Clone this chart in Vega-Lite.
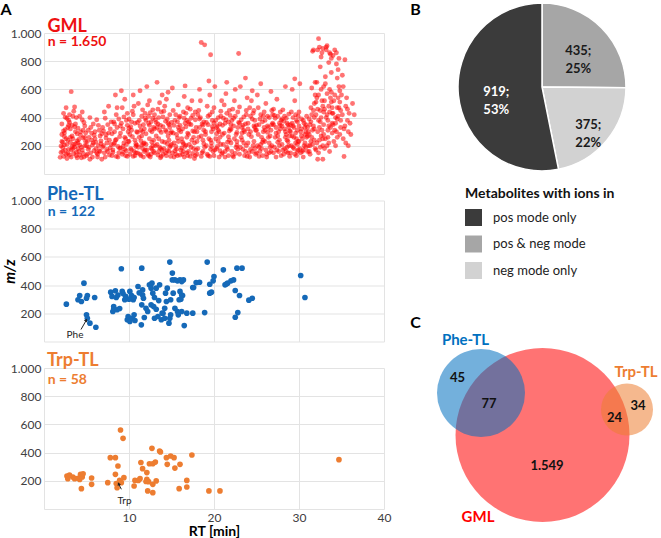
{
"$schema":"https://vega.github.io/schema/vega-lite/v6.json",
"padding":{"left":0,"top":0,"right":0,"bottom":0},
"background":"white",
"config":{"font":"Lato","view":{"stroke":null},"axis":{"labelOverlap":false,"labelFlush":false,"tickCount":12}},
"bounds":"flush",
"columns":2,
"spacing":{"row":26.5,"column":42},
"resolve":{"scale":{"color":"independent","size":"independent","theta":"independent","radius":"independent"},"legend":{"color":"independent","size":"independent"}},
"concat":[
{"width":340,"height":141,
"layer":[
{"data":{"values":"x,y\n2.0,152\n2.1,230\n1.9,118\n2.3,305\n2.2,188\n2.5,402\n2.4,265\n2.6,140\n2.8,330\n2.7,210\n2.9,175\n2.1,355\n2.3,125\n2.6,470\n2.4,290\n2.8,240\n2.0,198\n2.9,380\n2.2,160\n2.5,315\n2.7,110\n2.3,430\n2.6,250\n2.8,145\n2.1,280\n2.4,205\n2.9,345\n2.5,168\n2.7,395\n2.2,225\n3.0,135\n3.2,584\n3.1,260\n3.4,180\n3.3,345\n3.5,210\n3.6,475\n3.2,120\n3.7,300\n3.8,155\n3.4,410\n3.9,235\n3.1,320\n3.6,190\n3.5,445\n3.3,270\n3.8,130\n3.0,365\n3.7,215\n3.9,285\n3.2,170\n3.4,250\n3.6,335\n3.8,400\n3.5,145\n3.1,225\n3.7,355\n3.3,195\n3.9,115\n3.0,420\n4.1,160\n4.3,300\n4.0,220\n4.5,385\n4.2,135\n4.6,255\n4.4,190\n4.8,340\n4.7,120\n4.9,230\n4.2,410\n4.5,170\n4.3,275\n4.8,200\n4.0,325\n4.6,145\n4.9,290\n4.1,245\n4.7,365\n4.4,115\n4.2,205\n4.8,260\n4.5,440\n4.0,180\n4.6,310\n5.1,140\n5.3,260\n5.0,200\n5.5,330\n5.2,175\n5.7,120\n5.6,290\n5.8,220\n5.4,400\n5.9,165\n5.2,310\n5.6,240\n5.0,130\n5.8,355\n5.3,190\n5.9,275\n5.5,150\n5.1,230\n5.7,205\n5.4,105\n6.1,180\n6.3,120\n6.0,250\n6.5,310\n6.2,150\n6.7,215\n6.4,345\n6.8,105\n6.6,270\n6.9,190\n6.2,385\n6.5,165\n6.0,300\n6.7,235\n6.3,140\n6.9,330\n6.4,200\n6.8,285\n6.1,225\n6.6,160\n7.1,150\n7.3,280\n7.0,200\n7.5,350\n7.2,120\n7.7,240\n7.4,175\n7.8,320\n7.6,480\n7.9,210\n7.2,395\n7.5,160\n7.0,305\n7.7,135\n7.3,255\n7.9,370\n7.4,220\n7.8,185\n7.1,440\n7.6,290\n8.1,170\n8.3,300\n8.0,130\n8.5,245\n8.2,370\n8.7,195\n8.4,560\n8.8,150\n8.6,330\n8.9,265\n8.2,210\n8.5,420\n8.0,285\n8.7,120\n8.3,355\n8.9,180\n8.4,240\n8.8,390\n8.1,155\n8.6,470\n8.5,125\n8.3,220\n9.1,590\n9.0,185\n9.3,320\n9.2,140\n9.5,260\n9.4,405\n9.7,210\n9.6,130\n9.8,345\n9.9,230\n9.2,470\n9.5,175\n9.0,290\n9.7,380\n9.3,155\n9.9,300\n9.4,220\n9.8,125\n9.1,360\n9.6,250\n9.5,530\n9.3,195\n9.8,430\n9.0,340\n9.7,165\n10.1,140\n10.3,310\n10.0,230\n10.5,420\n10.2,180\n10.7,360\n10.4,265\n10.8,150\n10.6,480\n10.9,205\n10.2,335\n10.5,125\n10.0,390\n10.7,240\n10.3,170\n10.9,300\n10.4,445\n10.8,215\n10.1,280\n10.6,160\n10.5,560\n10.3,370\n10.8,195\n10.0,325\n10.7,130\n11.1,190\n11.3,340\n11.0,150\n11.5,410\n11.2,260\n11.7,120\n11.4,310\n11.8,220\n11.6,455\n11.9,170\n11.2,380\n11.5,205\n11.0,295\n11.7,350\n11.3,140\n11.9,430\n11.4,235\n11.8,320\n11.1,500\n11.6,180\n11.5,270\n11.3,590\n11.8,160\n11.0,365\n11.7,215\n11.4,130\n11.9,395\n11.6,300\n12.1,170\n12.3,360\n12.0,210\n12.5,435\n12.2,140\n12.7,300\n12.4,250\n12.8,395\n12.6,185\n12.9,330\n12.2,490\n12.5,120\n12.0,285\n12.7,225\n12.3,410\n12.9,160\n12.4,345\n12.8,200\n12.1,620\n12.6,370\n12.5,310\n12.3,130\n12.8,455\n12.0,380\n12.7,175\n12.4,520\n12.9,240\n12.6,140\n13.1,200\n13.3,330\n13.0,150\n13.5,400\n13.2,270\n13.7,180\n13.4,460\n13.8,125\n13.6,310\n13.9,230\n13.2,365\n13.5,160\n13.0,420\n13.7,345\n13.3,210\n13.9,560\n13.4,135\n13.8,295\n13.1,385\n13.6,190\n13.5,250\n13.3,650\n13.8,440\n13.0,320\n13.7,115\n13.4,355\n13.9,170\n13.6,505\n14.1,180\n14.3,310\n14.0,140\n14.5,390\n14.2,225\n14.7,350\n14.4,130\n14.8,420\n14.6,270\n14.9,200\n14.2,480\n14.5,165\n14.0,335\n14.7,240\n14.3,375\n14.9,125\n14.4,300\n14.8,190\n14.1,445\n14.6,580\n14.5,215\n14.3,150\n14.8,330\n14.0,405\n14.7,160\n14.4,530\n14.9,290\n14.6,360\n15.1,150\n15.3,345\n15.0,210\n15.5,420\n15.2,290\n15.7,130\n15.4,380\n15.8,230\n15.6,175\n15.9,310\n15.2,450\n15.5,195\n15.0,365\n15.7,255\n15.3,120\n15.9,400\n15.4,165\n15.8,330\n15.1,610\n15.6,280\n15.5,140\n15.3,220\n15.8,490\n15.0,300\n15.7,370\n16.1,170\n16.3,320\n16.0,135\n16.5,395\n16.2,250\n16.7,205\n16.4,440\n16.8,150\n16.6,360\n16.9,290\n16.2,185\n16.5,120\n16.0,410\n16.7,335\n16.3,225\n16.9,470\n16.4,160\n16.8,380\n16.1,300\n16.6,195\n16.5,550\n16.3,140\n16.8,260\n16.0,345\n16.7,430\n16.4,215\n16.9,130\n16.6,625\n17.1,210\n17.3,350\n17.0,160\n17.5,415\n17.2,125\n17.7,300\n17.4,240\n17.8,385\n17.6,180\n17.9,330\n17.2,460\n17.5,145\n17.0,280\n17.7,220\n17.3,395\n17.9,170\n17.4,520\n17.8,130\n17.1,355\n17.6,260\n17.5,305\n17.3,190\n17.8,440\n17.0,370\n17.7,110\n18.1,180\n18.3,330\n18.0,140\n18.5,933\n18.2,260\n18.9,916\n18.4,400\n18.8,215\n18.6,355\n18.7,160\n18.2,450\n18.5,125\n18.0,300\n18.7,240\n18.3,390\n18.9,190\n18.4,520\n18.8,310\n18.1,420\n18.6,150\n18.5,270\n18.3,600\n18.8,370\n18.0,230\n18.7,345\n19.1,200\n19.3,350\n19.6,846\n19.5,420\n19.2,140\n19.7,300\n19.4,250\n19.8,380\n19.6,175\n19.9,320\n19.2,480\n19.5,125\n19.0,280\n19.7,220\n19.3,410\n19.9,160\n19.4,660\n19.8,335\n19.1,365\n19.6,240\n19.5,560\n19.3,130\n19.8,440\n19.0,300\n19.7,195\n20.1,170\n20.3,330\n20.0,130\n20.5,400\n20.2,250\n20.7,355\n20.4,195\n20.8,445\n20.6,300\n20.9,140\n20.2,380\n20.5,230\n20.0,470\n20.7,165\n20.3,285\n20.9,520\n20.4,340\n20.8,210\n20.1,620\n20.6,120\n20.5,310\n20.3,180\n20.8,410\n20.0,360\n20.7,260\n21.1,210\n21.3,360\n21.0,150\n21.5,430\n21.2,290\n21.7,130\n21.4,385\n21.8,240\n21.6,175\n21.9,320\n21.2,490\n21.5,190\n21.0,345\n21.7,265\n21.3,120\n21.9,415\n21.4,570\n21.8,305\n21.1,395\n21.6,225\n21.5,650\n21.3,160\n21.8,450\n21.0,280\n21.7,370\n22.1,160\n22.3,340\n22.0,220\n22.5,410\n22.2,130\n22.7,295\n22.4,250\n22.9,855\n22.6,190\n22.9,365\n22.2,460\n22.5,145\n22.0,315\n22.7,230\n22.3,395\n22.8,175\n22.4,520\n22.8,330\n22.1,380\n22.6,280\n22.5,600\n22.3,120\n22.8,440\n22.0,350\n22.7,205\n23.1,190\n23.3,330\n23.0,140\n23.5,405\n23.2,260\n23.7,355\n23.4,175\n23.8,450\n23.6,300\n23.9,125\n23.2,385\n23.5,220\n23.0,475\n23.7,160\n23.3,290\n23.9,540\n23.4,345\n23.8,200\n23.1,620\n23.6,130\n23.5,310\n23.3,240\n23.8,420\n23.0,360\n23.7,680\n24.1,150\n24.3,300\n24.0,220\n24.5,390\n24.2,120\n24.7,340\n24.4,265\n24.8,180\n24.6,430\n24.9,310\n24.2,470\n24.5,160\n24.0,360\n24.7,230\n24.3,410\n24.9,140\n24.4,520\n24.8,330\n24.1,280\n24.6,200\n24.5,590\n24.3,175\n24.8,380\n24.0,320\n24.7,450\n25.1,200\n25.3,350\n25.0,150\n25.5,420\n25.2,280\n25.7,130\n25.4,390\n25.8,240\n25.6,180\n25.9,330\n25.2,470\n25.5,210\n25.0,310\n25.7,370\n25.3,125\n25.9,440\n25.4,160\n25.8,300\n25.1,560\n25.6,260\n25.5,640\n25.3,190\n25.8,410\n25.0,345\n25.7,225\n26.1,170\n26.3,340\n26.0,230\n26.5,400\n26.2,140\n26.7,310\n26.4,260\n26.8,450\n26.6,190\n26.9,360\n26.2,120\n26.5,220\n26.0,380\n26.7,160\n26.3,295\n26.9,420\n26.4,330\n26.8,200\n26.1,500\n26.6,270\n26.5,150\n26.3,410\n26.8,350\n26.0,310\n26.7,585\n27.1,190\n27.3,330\n27.0,150\n27.5,410\n27.2,260\n27.7,360\n27.4,170\n27.8,440\n27.6,300\n27.9,130\n27.2,395\n27.5,225\n27.0,350\n27.7,200\n27.3,290\n27.9,380\n27.4,530\n27.8,320\n27.1,415\n27.6,160\n27.5,270\n27.3,120\n27.8,345\n27.0,460\n27.7,240\n28.1,170\n28.3,320\n28.0,210\n28.5,395\n28.2,140\n28.7,350\n28.4,260\n28.8,425\n28.6,190\n28.9,305\n28.2,375\n28.5,160\n28.0,340\n28.7,230\n28.3,410\n28.9,125\n28.4,300\n28.8,200\n28.1,455\n28.6,360\n28.5,280\n28.3,180\n28.8,330\n28.0,390\n28.7,150\n28.4,620\n28.9,270\n28.6,240\n29.1,200\n29.3,340\n29.0,150\n29.5,675\n29.2,270\n29.7,380\n29.4,180\n29.8,310\n29.6,420\n29.9,230\n29.2,360\n29.5,140\n29.0,300\n29.7,250\n29.3,400\n29.9,170\n29.4,330\n29.8,210\n29.1,440\n29.6,290\n29.5,520\n29.3,190\n29.8,370\n29.0,350\n29.7,130\n29.4,260\n29.9,410\n29.6,220\n29.2,600\n29.8,160\n30.1,180\n30.3,320\n30.0,230\n30.5,380\n30.2,150\n30.7,280\n30.4,250\n30.8,350\n30.6,200\n30.9,410\n30.2,300\n30.5,170\n30.0,340\n30.7,220\n30.3,390\n30.9,260\n30.4,160\n30.8,300\n30.1,640\n30.6,360\n30.5,120\n30.3,270\n30.8,190\n30.0,440\n30.7,330\n31.1,200\n31.3,350\n31.0,160\n31.5,420\n31.2,280\n31.7,880\n31.4,230\n31.8,500\n31.6,310\n31.9,180\n31.2,390\n31.5,260\n31.0,330\n31.7,450\n31.3,140\n31.9,560\n31.4,370\n31.8,240\n31.1,300\n31.6,870\n31.5,610\n31.3,200\n31.8,400\n31.0,270\n31.7,340\n31.4,470\n31.9,650\n31.6,210\n31.2,160\n31.8,320\n32.1,220\n32.3,380\n32.0,170\n32.5,450\n32.2,300\n32.7,520\n32.4,900\n32.8,250\n32.6,600\n32.9,350\n32.2,880\n32.5,190\n32.0,420\n32.7,860\n32.3,560\n32.9,280\n32.4,330\n32.8,480\n32.1,650\n32.6,400\n32.5,760\n32.3,150\n32.8,890\n32.0,510\n32.7,310\n32.4,240\n32.9,620\n32.6,830\n32.2,460\n32.5,370\n32.1,540\n32.8,200\n32.3,960\n32.6,270\n32.9,440\n32.2,105\n32.8,105\n33.1,250\n33.3,420\n33.0,180\n33.5,480\n33.2,880\n33.7,540\n33.4,310\n33.8,820\n33.6,600\n33.9,360\n33.2,900\n33.5,220\n33.0,460\n33.7,850\n33.3,570\n33.9,290\n33.4,380\n33.8,510\n33.1,640\n33.6,440\n33.5,790\n33.3,200\n33.8,720\n33.0,520\n33.7,330\n33.4,260\n33.9,470\n33.6,860\n33.2,400\n33.5,340\n33.1,690\n33.8,580\n33.3,910\n33.6,160\n33.9,430\n34.1,230\n34.3,400\n34.0,840\n34.5,470\n34.2,560\n34.7,820\n34.4,300\n34.8,510\n34.6,740\n34.9,380\n34.2,880\n34.5,260\n34.0,430\n34.7,620\n34.3,360\n34.9,450\n34.4,780\n34.8,280\n34.1,520\n34.6,410\n34.5,680\n34.3,200\n34.8,590\n34.0,350\n34.7,470\n34.4,860\n34.9,330\n34.6,540\n34.2,310\n34.5,390\n35.1,420\n35.3,320\n35.0,560\n35.5,480\n35.2,250\n35.7,380\n35.4,810\n35.8,300\n35.6,540\n35.9,430\n35.2,620\n35.5,220\n36.0,360\n35.7,460\n36.3,500\n36.5,420\n35.4,340\n35.8,200\n35.1,700\n36.1,280\n35.3,124","format":{"type":"csv","parse":{"x":"number","y":"number"}}},
"mark":{"type":"circle","size":24,"opacity":0.55,"color":"#ff0000"},
"encoding":{
"x":{"field":"x","type":"quantitative","scale":{"domain":[0,40],"nice":false,"zero":false},"axis":{"values":[0,10,20,30,40],"tickCount":12,"labels":false,"ticks":false,"domain":false,"title":null,"gridColor":"#e3e3e3"}},
"y":{"field":"y","type":"quantitative","scale":{"domain":[0,1000],"nice":false},"axis":{"values":[0,200,400,600,800,1000],"tickCount":12,"labelExpr":"datum.value==0?'':(datum.value==1000?'1.000':datum.label)","labelOverlap":false,"ticks":false,"domain":false,"title":null,"labelPadding":3,"labelFontSize":12,"labelColor":"#404040","gridColor":"#e3e3e3"}}}},
{"data":{"values":[{}]},"mark":{"type":"text","align":"left","baseline":"alphabetic","fontSize":18,"fontWeight":"bold","color":"#ee1111"},
"encoding":{"x":{"datum":0.4,"type":"quantitative"},"y":{"datum":1008,"type":"quantitative"},"text":{"value":"GML"}}},
{"data":{"values":[{}]},"mark":{"type":"text","align":"left","baseline":"alphabetic","fontSize":14,"fontWeight":"bold","color":"#ee1111"},
"encoding":{"x":{"datum":0.45,"type":"quantitative"},"y":{"datum":905,"type":"quantitative"},"text":{"value":"n = 1.650"}}},
{"data":{"values":[{}]},"mark":{"type":"text","align":"center","baseline":"middle","fontSize":16,"fontWeight":"bold","color":"#000000"},
"encoding":{"x":{"datum":-4.47,"type":"quantitative"},"y":{"datum":1162,"type":"quantitative"},"text":{"value":"A"}}}
]},
{"width":232,"height":108,
"data":{"values":[{"mode":"pos & neg mode","n":435,"o":1,"lab":"435;\n25%"},{"mode":"neg mode only","n":375,"o":2,"lab":"375;\n22%"},{"mode":"pos mode only","n":919,"o":3,"lab":"919;\n53%"}]},
"encoding":{
"theta":{"field":"n","type":"quantitative","stack":true},
"order":{"field":"o","type":"quantitative"},
"color":{"field":"mode","type":"nominal","scale":{"domain":["pos mode only","pos & neg mode","neg mode only"],"range":["#3b3b3b","#a6a6a6","#d2d2d2"]},
"legend":{"orient":"none","legendX":39,"legendY":154,"title":"Metabolites with ions in","titleFontSize":14,"titleFontWeight":"bold","titleColor":"#111111","titlePadding":8,"labelFontSize":13,"labelColor":"#222222","labelOffset":11,"symbolType":"square","symbolSize":289,"symbolStrokeWidth":0,"symbolOpacity":1,"rowPadding":9.5}}},
"layer":[
{"mark":{"type":"arc","outerRadius":84,"stroke":"#ffffff","strokeWidth":1.5}},
{"mark":{"type":"text","fontSize":13,"fontWeight":"bold","lineBreak":"\n","lineHeight":18,"baseline":"middle","align":"center"},
"encoding":{"text":{"field":"lab"},
"radius":{"field":"n","type":"quantitative","scale":{"type":"linear","domain":[375,435,919],"range":[60,51,46],"zero":false}},
"color":{"condition":{"test":"datum.o==3","value":"#ffffff"},"value":"#1a1a1a"}}}
]},
{"width":340,"height":141,
"layer":[
{"data":{"values":"x,y\n2.63,265\n4.7,414\n4.2,326\n4.0,296\n4.4,284\n5.1,326\n5.0,307\n5.96,312\n5.0,189\n5.1,165\n5.4,130\n6.1,101\n7.85,350\n8.4,360\n9.1,516\n8.0,320\n8.5,312\n8.7,330\n9.2,355\n8.2,248\n8.1,213\n8.2,232\n8.6,225\n8.9,234\n9.5,296\n9.6,320\n10.1,355\n10.3,326\n10.5,296\n10.6,312\n9.9,177\n9.8,154\n10.1,142\n10.4,165\n10.6,189\n10.7,149\n11.06,390\n11.5,520\n11.5,260\n11.7,307\n11.6,330\n11.6,366\n11.45,118\n12.0,236\n12.2,213\n11.8,170\n12.4,402\n12.7,414\n12.6,378\n12.8,343\n13.0,312\n12.6,260\n12.9,248\n13.2,229\n13.0,165\n13.4,177\n13.2,378\n13.6,402\n13.8,154\n13.9,201\n14.2,165\n14.2,236\n14.4,284\n14.5,378\n14.3,343\n14.8,563\n15.1,485\n15.1,437\n15.4,437\n15.7,430\n16.0,437\n16.2,425\n14.8,165\n14.7,130\n14.9,189\n15.4,236\n15.7,213\n15.8,189\n16.0,355\n16.2,330\n15.9,296\n16.5,113\n15.2,343\n14.9,296\n17.5,383\n17.5,201\n17.9,418\n19.2,563\n21.1,508\n22.7,520\n23.3,520\n20.0,461\n19.9,430\n19.5,406\n19.7,350\n19.5,343\n18.3,420\n17.6,383\n16.4,437\n21.3,402\n21.6,414\n22.0,430\n22.3,437\n21.45,408\n22.5,362\n23.0,326\n24.1,293\n24.5,307\n22.5,172\n22.8,205\n18.9,205\n16.8,201\n16.2,213\n16.3,326\n16.1,300\n30.2,468\n30.7,312\n9.3,340\n13.5,290\n14.0,200\n11.2,345\n10.0,300","format":{"type":"csv","parse":{"x":"number","y":"number"}}},
"mark":{"type":"circle","size":32,"opacity":1,"color":"#1569b8"},
"encoding":{
"x":{"field":"x","type":"quantitative","scale":{"domain":[0,40],"nice":false,"zero":false},"axis":{"values":[0,10,20,30,40],"tickCount":12,"labels":false,"ticks":false,"domain":false,"title":null,"gridColor":"#e3e3e3"}},
"y":{"field":"y","type":"quantitative","scale":{"domain":[0,1000],"nice":false},"axis":{"values":[0,200,400,600,800,1000],"tickCount":12,"labelExpr":"datum.value==0?'':(datum.value==1000?'1.000':datum.label)","labelOverlap":false,"ticks":false,"domain":false,"title":"m/z","titleFontStyle":"italic","titleFontWeight":"bold","titleFontSize":15,"titleColor":"#000000","titlePadding":-7,"labelPadding":3,"labelFontSize":12,"labelColor":"#404040","gridColor":"#e3e3e3"}}}},
{"data":{"values":[{}]},"mark":{"type":"text","align":"left","baseline":"alphabetic","fontSize":18,"fontWeight":"bold","color":"#1569b8"},
"encoding":{"x":{"datum":0.35,"type":"quantitative"},"y":{"datum":1007,"type":"quantitative"},"text":{"value":"Phe-TL"}}},
{"data":{"values":[{}]},"mark":{"type":"text","align":"left","baseline":"alphabetic","fontSize":14,"fontWeight":"bold","color":"#1569b8"},
"encoding":{"x":{"datum":0.45,"type":"quantitative"},"y":{"datum":887,"type":"quantitative"},"text":{"value":"n = 122"}}},
{"data":{"values":[{}]},"mark":{"type":"text","align":"center","baseline":"middle","fontSize":10,"color":"#222222"},
"encoding":{"x":{"datum":3.65,"type":"quantitative"},"y":{"datum":43,"type":"quantitative"},"text":{"value":"Phe"}}},
{"data":{"values":[{}]},"mark":{"type":"rule","color":"#222222","strokeWidth":1},
"encoding":{"x":{"datum":4.35,"type":"quantitative"},"y":{"datum":85,"type":"quantitative"},"x2":{"datum":4.92},"y2":{"datum":145}}},
{"data":{"values":[{}]},"mark":{"type":"point","shape":"triangle-up","filled":true,"size":14,"angle":29,"opacity":1,"color":"#222222"},
"encoding":{"x":{"datum":4.97,"type":"quantitative"},"y":{"datum":152,"type":"quantitative"}}}
]},
{"width":232,"height":141,
"layer":[
{"data":{"values":[{"set":"GML","n":1650,"cx":116.5,"cy":234.5},{"set":"Phe-TL","n":122,"cx":55,"cy":192.5},{"set":"Trp-TL","n":58,"cx":201,"cy":209}]},
"mark":{"type":"circle","opacity":0.55},
"encoding":{
"x":{"field":"cx","type":"quantitative","scale":{"domain":[0,232],"nice":false,"zero":false},"axis":null},
"y":{"field":"cy","type":"quantitative","scale":{"domain":[0,141],"nice":false,"zero":false,"reverse":true},"axis":null},
"size":{"field":"n","type":"quantitative","scale":{"type":"linear","domain":[58,122,1650],"range":[2704,7744,30276],"zero":false},"legend":null},
"color":{"field":"set","type":"nominal","scale":{"domain":["GML","Phe-TL","Trp-TL"],"range":["#ff0000","#0070c0","#ed7d31"]},"legend":null}}},
{"data":{"values":[{"set":"Phe-TL","t":"Phe-TL","lx":39.5,"ly":139.5},{"set":"Trp-TL","t":"Trp-TL","lx":210,"ly":171.5},{"set":"GML","t":"GML","lx":52,"ly":316.5}]},
"mark":{"type":"text","fontSize":15,"fontWeight":"bold","baseline":"middle","align":"center"},
"encoding":{"x":{"field":"lx","type":"quantitative"},"y":{"field":"ly","type":"quantitative"},"text":{"field":"t"},"color":{"field":"set","type":"nominal","legend":null}}},
{"data":{"values":[{"t":"45","lx":31.5,"ly":177},{"t":"77","lx":63,"ly":203},{"t":"34","lx":212,"ly":205},{"t":"24","lx":188.5,"ly":217},{"t":"1.549","lx":121,"ly":265}]},
"mark":{"type":"text","fontSize":13,"fontWeight":"bold","baseline":"middle","align":"center","color":"#111111"},
"encoding":{"x":{"field":"lx","type":"quantitative"},"y":{"field":"ly","type":"quantitative"},"text":{"field":"t"}}},
{"data":{"values":[{"t":"C","lx":-10.5,"ly":122},{"t":"B","lx":-10.5,"ly":-191}]},
"mark":{"type":"text","fontSize":16,"fontWeight":"bold","baseline":"middle","align":"center","color":"#000000"},
"encoding":{"x":{"field":"lx","type":"quantitative"},"y":{"field":"ly","type":"quantitative"},"text":{"field":"t"}}}
]},
{"width":340,"height":141,
"layer":[
{"data":{"values":"x,y\n2.7,234\n2.8,215\n3.4,227\n3.6,215\n4.0,218\n4.3,246\n4.5,227\n4.2,210\n4.4,144\n5.6,220\n5.6,175\n7.5,187\n7.8,364\n8.4,364\n9.0,560\n9.3,501\n8.7,305\n8.4,246\n8.5,180\n8.6,151\n8.9,203\n9.4,222\n9.1,187\n10.7,203\n10.6,163\n11.1,203\n11.3,215\n11.6,286\n12.1,258\n12.1,210\n12.3,194\n12.2,128\n12.8,116\n12.8,175\n13.2,199\n12.7,430\n12.4,321\n12.8,321\n13.1,333\n13.6,411\n13.7,404\n14.4,364\n14.9,376\n15.3,364\n14.5,317\n15.4,290\n16.0,317\n15.9,144\n16.8,203\n16.8,156\n17.4,383\n19.4,128\n20.7,128\n34.7,350\n3.0,240\n4.6,250\n12.0,195\n11.4,330","format":{"type":"csv","parse":{"x":"number","y":"number"}}},
"mark":{"type":"circle","size":32,"opacity":1,"color":"#ed7d31"},
"encoding":{
"x":{"field":"x","type":"quantitative","scale":{"domain":[0,40],"nice":false,"zero":false},"axis":{"values":[0,10,20,30,40],"tickCount":12,"labelExpr":"datum.value==0?'':datum.label","labelOverlap":false,"ticks":false,"domain":false,"title":"RT [min]","titleFontSize":14,"titleFontWeight":"bold","titleColor":"#000000","titlePadding":1,"labelPadding":3,"labelFontSize":12,"labelColor":"#404040","gridColor":"#e3e3e3"}},
"y":{"field":"y","type":"quantitative","scale":{"domain":[0,1000],"nice":false},"axis":{"values":[0,200,400,600,800,1000],"tickCount":12,"labelExpr":"datum.value==0?'':(datum.value==1000?'1.000':datum.label)","labelOverlap":false,"ticks":false,"domain":false,"title":null,"labelPadding":3,"labelFontSize":12,"labelColor":"#404040","gridColor":"#e3e3e3"}}}},
{"data":{"values":[{}]},"mark":{"type":"text","align":"left","baseline":"alphabetic","fontSize":18,"fontWeight":"bold","color":"#ed7d31"},
"encoding":{"x":{"datum":0.35,"type":"quantitative"},"y":{"datum":1014,"type":"quantitative"},"text":{"value":"Trp-TL"}}},
{"data":{"values":[{}]},"mark":{"type":"text","align":"left","baseline":"alphabetic","fontSize":14,"fontWeight":"bold","color":"#ed7d31"},
"encoding":{"x":{"datum":0.45,"type":"quantitative"},"y":{"datum":887,"type":"quantitative"},"text":{"value":"n = 58"}}},
{"data":{"values":[{}]},"mark":{"type":"text","align":"center","baseline":"middle","fontSize":10,"color":"#222222"},
"encoding":{"x":{"datum":9.47,"type":"quantitative"},"y":{"datum":57,"type":"quantitative"},"text":{"value":"Trp"}}},
{"data":{"values":[{}]},"mark":{"type":"rule","color":"#222222","strokeWidth":1},
"encoding":{"x":{"datum":9.1,"type":"quantitative"},"y":{"datum":140,"type":"quantitative"},"x2":{"datum":8.83},"y2":{"datum":172}}},
{"data":{"values":[{}]},"mark":{"type":"point","shape":"triangle-up","filled":true,"size":14,"angle":334,"opacity":1,"color":"#222222"},
"encoding":{"x":{"datum":8.78,"type":"quantitative"},"y":{"datum":179,"type":"quantitative"}}}
]}
]
}
